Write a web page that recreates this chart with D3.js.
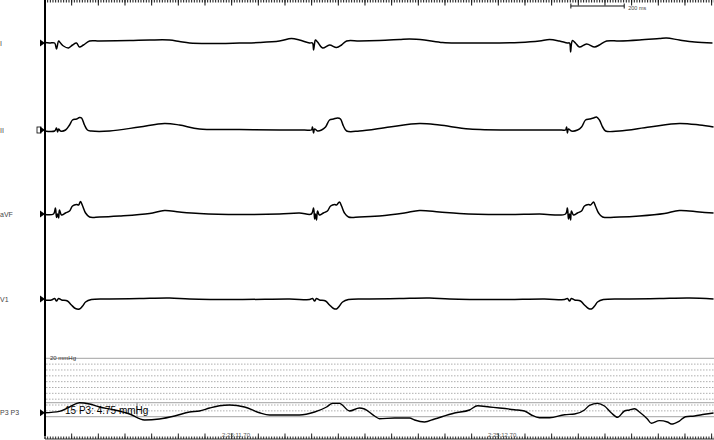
<!DOCTYPE html>
<html><head><meta charset="utf-8">
<script src="https://cdn.jsdelivr.net/npm/d3@7"></script>
<style>
html,body{margin:0;padding:0;background:#fff;overflow:hidden}
svg{display:block;font-family:Arial,"Liberation Sans",sans-serif}
text{-webkit-font-smoothing:antialiased}
</style></head>
<body><svg id="c" width="714" height="440"></svg>
<script>
// ---- data (time in ms, ECG in mV, pressure in mmHg) ----
const channelNames = ["I", "II", "aVF", "V1", "P3 P3"];
const leadI = [[0,0.01],[19,0],[38,0],[45,-0.12],[53,0.04],[60,0],[71,-0.06],[90,-0.10],[105,-0.04],[120,0],[131,-0.08],[146,-0.04],[169,0.04],[206,0.04],[319,0.05],[394,0.06],[469,0.06],[506,0.03],[544,0],[619,-0.01],[731,0],[806,0.01],[881,0.04],[926,0.09],[956,0.06],[994,0],[1005,0],[1009,-0.14],[1013,0],[1016,0.06],[1024,0.02],[1043,-0.10],[1069,-0.04],[1095,-0.09],[1114,-0.04],[1133,0.04],[1181,0.04],[1256,0.05],[1331,0.07],[1369,0.08],[1425,0.06],[1493,0.01],[1556,0],[1631,0],[1706,0],[1781,0.01],[1856,0.04],[1894,0.07],[1931,0.04],[1961,0],[1969,0],[1973,-0.18],[1976,-0.02],[1980,0.05],[1991,0],[2006,-0.08],[2033,-0.02],[2063,-0.08],[2081,-0.04],[2108,0.04],[2156,0.04],[2231,0.06],[2306,0.09],[2333,0.10],[2381,0.06],[2438,0.02],[2505,0]];
const leadII = [[0,-0.02],[38,-0.02],[45,0.04],[49,-0.04],[53,0.02],[60,-0.02],[79,0],[94,0.10],[105,0.20],[120,0.22],[131,0.25],[139,0.24],[150,0.10],[161,0],[176,-0.02],[244,-0.02],[356,0.06],[450,0.13],[506,0.10],[581,0.02],[731,0.01],[881,0],[975,0],[1001,0],[1005,0.06],[1009,-0.06],[1013,0.02],[1024,-0.02],[1039,0],[1054,0.06],[1069,0.20],[1084,0.22],[1099,0.24],[1110,0.22],[1121,0.08],[1133,-0.02],[1181,-0.02],[1294,0.06],[1406,0.13],[1481,0.10],[1594,0.02],[1781,0],[1939,0],[1954,0],[1958,0.06],[1961,-0.06],[1965,0.02],[1976,-0.02],[1999,0],[2014,0.06],[2029,0.20],[2044,0.22],[2059,0.24],[2070,0.26],[2081,0.20],[2093,0.06],[2104,-0.02],[2156,-0.02],[2269,0.06],[2381,0.13],[2456,0.10],[2509,0.06]];
const leadAVF = [[0,-0.01],[34,0],[41,0.12],[45,-0.07],[49,0],[53,-0.08],[56,0.08],[64,-0.02],[79,0.02],[94,0.06],[105,0.16],[120,0.19],[128,0.18],[135,0.25],[143,0.16],[154,0.02],[169,-0.06],[206,-0.06],[281,-0.04],[394,0.01],[450,0.07],[506,0.04],[581,0.01],[731,-0.01],[881,0],[956,0.02],[1001,0],[1009,0.12],[1013,-0.10],[1016,0],[1020,-0.12],[1024,0.06],[1031,-0.02],[1046,0.02],[1061,0.06],[1073,0.16],[1088,0.19],[1095,0.18],[1106,0.24],[1114,0.16],[1125,0.02],[1140,-0.06],[1181,-0.06],[1256,-0.04],[1350,0.02],[1406,0.07],[1481,0.04],[1556,0.01],[1706,-0.01],[1856,0],[1954,0],[1961,0.12],[1965,-0.10],[1969,0],[1973,-0.12],[1976,0.06],[1984,-0.02],[1999,0.02],[2014,0.06],[2025,0.16],[2040,0.19],[2048,0.18],[2059,0.24],[2066,0.16],[2078,0.02],[2093,-0.06],[2156,-0.06],[2231,-0.04],[2325,0.01],[2381,0.07],[2456,0.04],[2509,0.02]];
const leadV1 = [[0,-0.02],[26,-0.02],[38,0.01],[45,-0.04],[53,0.01],[64,-0.02],[86,-0.04],[101,-0.12],[116,-0.19],[131,-0.20],[143,-0.14],[154,-0.06],[176,-0.01],[244,0],[356,0.01],[469,0.02],[544,0],[731,-0.01],[919,0],[994,-0.01],[1005,0.01],[1013,-0.04],[1020,0.01],[1031,-0.02],[1054,-0.04],[1069,-0.12],[1084,-0.19],[1095,-0.20],[1106,-0.14],[1118,-0.06],[1140,-0.01],[1219,0],[1331,0.01],[1444,0.02],[1519,0],[1706,-0.01],[1875,0],[1950,-0.01],[1961,0.01],[1969,-0.04],[1976,0.01],[1988,-0.02],[2010,-0.04],[2025,-0.12],[2040,-0.19],[2051,-0.20],[2063,-0.14],[2074,-0.06],[2096,-0.01],[2194,0],[2306,0.01],[2419,0.02],[2509,0]];
const pressureP3 = [[0,10.68],[56,10.92],[94,11.66],[131,12.40],[169,12.17],[206,11.66],[263,11.15],[319,10.46],[375,9.43],[431,9.61],[488,10.12],[544,10.80],[581,10.98],[619,11.49],[656,11.88],[694,12.0],[750,11.66],[806,10.68],[844,10.29],[956,10.29],[1013,10.80],[1058,11.66],[1080,12.29],[1106,12.29],[1144,10.98],[1181,11.49],[1200,11.32],[1238,10.12],[1256,9.66],[1313,9.78],[1369,9.78],[1388,9.43],[1425,9.09],[1463,9.61],[1538,10.63],[1594,11.15],[1624,11.88],[1669,11.66],[1706,11.49],[1763,11.20],[1800,10.98],[1826,10.29],[1856,9.83],[1894,9.83],[1950,10.34],[1988,10.46],[2025,11.15],[2044,11.95],[2074,12.29],[2100,11.83],[2126,10.63],[2149,9.90],[2175,10.98],[2194,11.15],[2213,11.37],[2231,10.80],[2261,9.61],[2276,8.87],[2306,9.32],[2336,9.09],[2351,8.75],[2381,9.26],[2404,10.0],[2438,10.12],[2475,10.41],[2509,10.63]];
const pressureSolidLevels = [20, 12.4, 10];
const pressureDottedLevels = [19, 18, 17, 16, 15, 14, 13, 12, 11];
const timeLabels = [[666, "2:25:11.70"], [1663, "2:25:12.70"]];
const scaleBar = {start: 1974, length: 200, label: "200 ms"};
const cursorText = "15 P3: 4.75 mmHg";
const pressureRefLabel = "20 mmHg";

// ---- layout ----
const svg = d3.select("#c");
const W = 714, H = 440;
const x = d3.scaleLinear().domain([0, 2510]).range([44.5, 713.8]);
const lanes = [43, 130, 214, 299];
const ecgSeries = [leadI, leadII, leadAVF, leadV1];
const yP = d3.scaleLinear().domain([10, 20]).range([416.7, 358.3]);

// pressure grid
svg.append("g").selectAll("line").data(pressureDottedLevels).join("line")
  .attr("x1", 46).attr("x2", W).attr("y1", d => yP(d)).attr("y2", d => yP(d))
  .attr("stroke", "#9a9a9a").attr("stroke-width", 0.8).attr("stroke-dasharray", "1.5,1.5");
svg.append("g").selectAll("line").data(pressureSolidLevels).join("line")
  .attr("x1", 46).attr("x2", W).attr("y1", d => yP(d)).attr("y2", d => yP(d))
  .attr("stroke", "#b4b4b4").attr("stroke-width", 1.3);

svg.append("text").attr("x", 50).attr("y", yP(20) + 1.5).attr("font-size", 6).attr("fill", "#333").attr("opacity", 0.99).text(pressureRefLabel);

// top axis ticks
const minorT = d3.range(0, 2511, 10), majorT = d3.range(0, 2511, 100);
const gTop = svg.append("g").attr("transform", "translate(0,0)");
gTop.call(d3.axisBottom(x).tickValues(minorT).tickSize(2.5).tickFormat(""));
gTop.append("g").call(d3.axisBottom(x).tickValues(majorT).tickSize(5.5).tickFormat(""));
gTop.selectAll(".domain").remove();
gTop.selectAll("line").attr("stroke", "#111");

// bottom axis
svg.append("line").attr("x1", 45).attr("x2", W).attr("y1", 439).attr("y2", 439).attr("stroke", "#777").attr("stroke-width", 1.5);
const gBot = svg.append("g").attr("transform", "translate(0,439)");
gBot.call(d3.axisTop(x).tickValues(minorT).tickSize(2.5).tickFormat(""));
gBot.append("g").call(d3.axisTop(x).tickValues(majorT).tickSize(5.5).tickFormat(""));
gBot.selectAll(".domain").remove();
gBot.selectAll("line").attr("stroke", "#222");
svg.append("g").selectAll("text").data(timeLabels).join("text")
  .attr("x", d => x(d[0])).attr("y", 437).attr("font-size", 6).attr("fill", "#555").attr("opacity", 0.99).text(d => d[1]);

// scale bar
const sb = svg.append("g").attr("stroke", "#111").attr("stroke-width", 1);
sb.append("line").attr("x1", x(scaleBar.start)).attr("x2", x(scaleBar.start + scaleBar.length)).attr("y1", 6).attr("y2", 6);
[scaleBar.start, scaleBar.start + scaleBar.length].forEach(t =>
  sb.append("line").attr("x1", x(t)).attr("x2", x(t)).attr("y1", 3.5).attr("y2", 8.5));
svg.append("text").attr("x", x(scaleBar.start + scaleBar.length) + 4).attr("y", 10).attr("font-size", 5.5).attr("fill", "#444").attr("opacity", 0.99).text(scaleBar.label);

// left axis line
svg.append("line").attr("x1", 45).attr("x2", 45).attr("y1", 0).attr("y2", 436).attr("stroke", "#000").attr("stroke-width", 2);

// ECG traces
ecgSeries.forEach((data, i) => {
  const c = lanes[i];
  const y = d3.scaleLinear().domain([-1, 1]).range([c + 50, c - 50]);
  const line = d3.line().x(d => x(d[0])).y(d => y(d[1])).curve(d3.curveCatmullRom.alpha(0.5));
  svg.append("path").datum(data).attr("d", line).attr("fill", "none").attr("stroke", "#000").attr("stroke-width", 1.5).attr("stroke-linejoin", "round");
});

// pressure trace
const pLine = d3.line().x(d => x(d[0])).y(d => yP(d[1])).curve(d3.curveMonotoneX);
svg.append("path").datum(pressureP3).attr("d", pLine).attr("fill", "none").attr("stroke", "#000").attr("stroke-width", 1.4);

// cursor box text
svg.append("line").attr("x1", 137).attr("x2", 137).attr("y1", yP(12.4)).attr("y2", yP(10)).attr("stroke", "#888").attr("stroke-width", 1);
svg.append("text").attr("x", 65).attr("y", 414).attr("font-size", 10).attr("fill", "#000").attr("opacity", 0.99).text(cursorText);

// channel labels and markers
const labelY = lanes.concat([yP(10.68)]);
svg.append("g").attr("opacity", 0.99).selectAll("text").data(channelNames).join("text")
  .attr("x", 0).attr("y", (d, i) => labelY[i] + 2.5).attr("font-size", 7).attr("fill", "#444").text(d => d);
svg.append("g").selectAll("path").data(labelY).join("path")
  .attr("d", d => `M40,${d - 3.5}L40,${d + 3.5}L45,${d}Z`).attr("fill", "#000");
// small box icon on II
svg.append("rect").attr("x", 37).attr("y", lanes[1] - 3).attr("width", 4).attr("height", 6).attr("fill", "none").attr("stroke", "#000").attr("stroke-width", 0.8);
</script></body></html>
